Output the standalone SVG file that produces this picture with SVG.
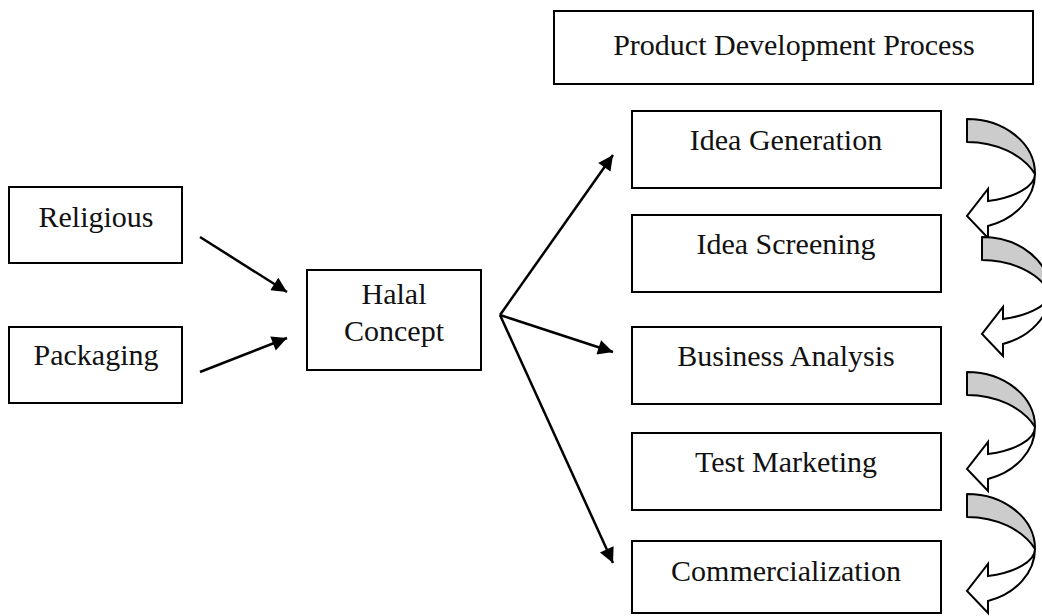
<svg xmlns="http://www.w3.org/2000/svg" width="1042" height="616" viewBox="0 0 1042 616">
<style>
.box{fill:#fff;stroke:#000;stroke-width:2}
.t{font-family:"Liberation Serif","Times New Roman",serif;font-size:30px;fill:#111;text-anchor:middle}
.conn{stroke:#000;stroke-width:2.5;fill:none;marker-end:url(#ah)}
.back{fill:#cccccc;stroke:#000;stroke-width:2;stroke-linejoin:round}
.front{fill:#fff;stroke:#000;stroke-width:2;stroke-linejoin:miter}
</style>
<defs>
<marker id="ah" viewBox="0 0 10 10" refX="10" refY="5" markerWidth="20" markerHeight="15" markerUnits="userSpaceOnUse" orient="auto">
<path d="M0,0 L10,5 L0,10 z" fill="#000"/>
</marker>
<g id="curv">
<path class="back" d="M0,0 A68,54.8 0 0 1 68,55 A74.8,54.8 0 0 0 0,23 Z"/>
<path class="front" d="M68,55 A68,54.8 0 0 1 21,107 L21,119 L0,97 L21,70 L21,82 A68,28.4 0 0 0 68,55 Z"/>
</g>
</defs>
<rect width="1042" height="616" fill="#fff"/>

<g id="pdp"><rect class="box" x="554" y="11" width="479" height="73"/><text class="t" x="794" y="55">Product Development Process</text></g>
<g id="religious"><rect class="box" x="9" y="187" width="173" height="76"/><text class="t" x="96" y="227">Religious</text></g>
<g id="packaging"><rect class="box" x="9" y="327" width="173" height="76"/><text class="t" x="96" y="365">Packaging</text></g>
<g id="halal"><rect class="box" x="307" y="270" width="174" height="100"/><text class="t" x="394" y="304">Halal</text><text class="t" x="394" y="341">Concept</text></g>
<g id="idea-gen"><rect class="box" x="632" y="111" width="309" height="77"/><text class="t" x="786" y="150">Idea Generation</text></g>
<g id="idea-scr"><rect class="box" x="632" y="215" width="309" height="77"/><text class="t" x="786" y="254">Idea Screening</text></g>
<g id="business"><rect class="box" x="632" y="327" width="309" height="77"/><text class="t" x="786" y="366">Business Analysis</text></g>
<g id="test"><rect class="box" x="632" y="433" width="309" height="77"/><text class="t" x="786" y="472">Test Marketing</text></g>
<g id="commercial"><rect class="box" x="632" y="541" width="309" height="72"/><text class="t" x="786" y="581">Commercialization</text></g>

<g id="connectors">
<line class="conn" x1="200" y1="237" x2="287" y2="292"/>
<line class="conn" x1="200" y1="372" x2="287" y2="338"/>
<polyline class="conn" points="500,315 613,155"/>
<line class="conn" x1="500" y1="315" x2="613" y2="352"/>
<line class="conn" x1="500" y1="315" x2="613" y2="563"/>
</g>

<g id="cycle-arrows">
<use href="#curv" transform="translate(967,119)"/>
<use href="#curv" transform="translate(982,237)"/>
<use href="#curv" transform="translate(967,372)"/>
<use href="#curv" transform="translate(967,494)"/>
</g>
</svg>
